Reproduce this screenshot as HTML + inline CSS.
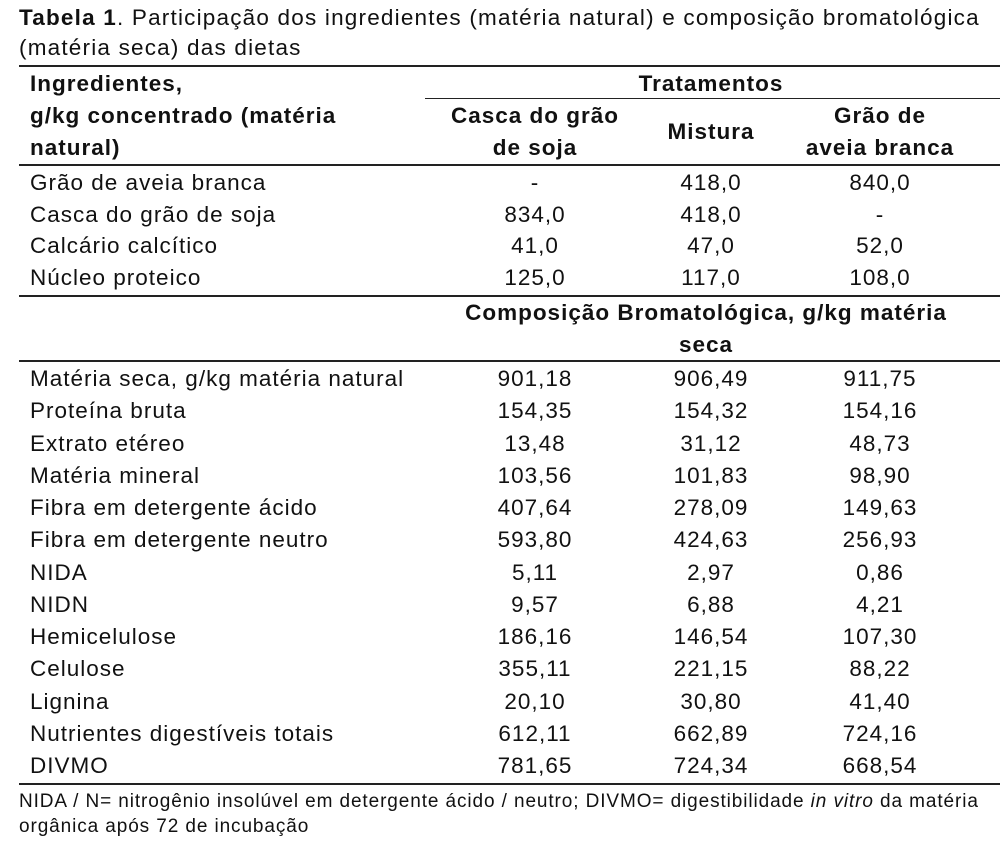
<!DOCTYPE html>
<html><head><meta charset="utf-8"><style>
body{margin:0;background:#fff;width:1004px;height:844px;position:relative;overflow:hidden;font-family:"Liberation Sans",sans-serif;color:#111}
.t{position:absolute;font-size:22.5px;line-height:26px;white-space:nowrap;letter-spacing:1px}
.b{font-weight:bold}
.c{transform:translateX(-50%)}
.l{position:absolute;height:1.5px;background:#222}
</style></head><body>
<div class="t" style="left:19px;top:5px;letter-spacing:1.2px"><b>Tabela 1</b>. Participação dos ingredientes (matéria natural) e composição bromatológica</div>
<div class="t" style="left:19px;top:35px;letter-spacing:1.2px">(matéria seca) das dietas</div>
<div class="l" style="left:19px;width:981px;top:65px"></div>
<div class="t b" style="left:30px;top:71px">Ingredientes,</div>
<div class="t b c" style="left:711px;top:71px">Tratamentos</div>
<div class="l" style="left:425px;width:575px;top:98px;height:1px"></div>
<div class="t b" style="left:30px;top:103px">g/kg concentrado (matéria</div>
<div class="t b" style="left:30px;top:135px">natural)</div>
<div class="t b c" style="left:535px;top:103px">Casca do grão</div>
<div class="t b c" style="left:535px;top:135px">de soja</div>
<div class="t b c" style="left:711px;top:119px">Mistura</div>
<div class="t b c" style="left:880px;top:103px">Grão de</div>
<div class="t b c" style="left:880px;top:135px">aveia branca</div>
<div class="l" style="left:19px;width:981px;top:164px"></div>
<div class="l" style="left:19px;width:981px;top:295px"></div>
<div class="t b c" style="left:706px;top:300px">Composição Bromatológica, g/kg matéria</div>
<div class="t b c" style="left:706px;top:332px">seca</div>
<div class="l" style="left:19px;width:981px;top:360px"></div>
<div class="l" style="left:19px;width:981px;top:783px"></div>
<div class="t" style="left:19px;top:790px;font-size:19px;line-height:24px;letter-spacing:0.9px">NIDA / N= nitrogênio insolúvel em detergente ácido / neutro; DIVMO= digestibilidade <i>in vitro</i> da matéria</div>
<div class="t" style="left:19px;top:815px;font-size:19px;line-height:24px;letter-spacing:0.9px">orgânica após 72 de incubação</div>
<script>
function rows(data,y0,dy){let h='';data.forEach((r,i)=>{const y=y0+i*dy-13;
h+=`<div class="t" style="left:30px;top:${y}px">${r[0]}</div>`;
[535,711,880].forEach((x,j)=>h+=`<div class="t c" style="left:${x}px;top:${y}px">${r[j+1]}</div>`)});
document.body.insertAdjacentHTML('beforeend',h)}
rows([["Grão de aveia branca","-","418,0","840,0"],["Casca do grão de soja","834,0","418,0","-"],["Calcário calcítico","41,0","47,0","52,0"],["Núcleo proteico","125,0","117,0","108,0"]],183,31.7);
rows([["Matéria seca, g/kg matéria natural","901,18","906,49","911,75"],["Proteína bruta","154,35","154,32","154,16"],["Extrato etéreo","13,48","31,12","48,73"],["Matéria mineral","103,56","101,83","98,90"],["Fibra em detergente ácido","407,64","278,09","149,63"],["Fibra em detergente neutro","593,80","424,63","256,93"],["NIDA","5,11","2,97","0,86"],["NIDN","9,57","6,88","4,21"],["Hemicelulose","186,16","146,54","107,30"],["Celulose","355,11","221,15","88,22"],["Lignina","20,10","30,80","41,40"],["Nutrientes digestíveis totais","612,11","662,89","724,16"],["DIVMO","781,65","724,34","668,54"]],379,32.25);
</script>
</body></html>
